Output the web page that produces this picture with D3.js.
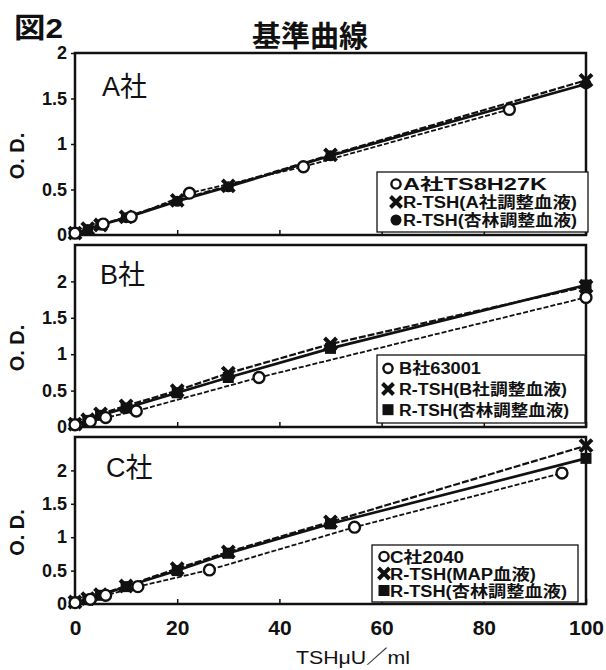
<!DOCTYPE html>
<html>
<head>
<meta charset="utf-8">
<script src="https://cdn.jsdelivr.net/npm/d3@7"></script>
<style>
  body { margin: 0; background: #fff; }
  svg { display: block; }
  text { fill: #111; }
</style>
</head>
<body>
<div id="chart"></div>
<script>
// --- data ---
const xTicks = [0, 20, 40, 60, 80, 100];
const yTicks = [0, 0.5, 1, 1.5, 2];
const panelNames = ["A社", "B社", "C社"];
const yMax = [2, 2.5, 2.5];

// R-TSH standards (both series use the same concentrations)
const rtshX = [0, 2.5, 5, 10, 20, 30, 50, 100];

// A社
const aKitX = [0, 5.5, 11, 22.4, 44.7, 85];
const aKitY = [0.02, 0.12, 0.2, 0.46, 0.75, 1.38];
const aRtshY = [0.02, 0.07, 0.11, 0.2, 0.38, 0.54, 0.88, 1.7];
const aKyorinY = [0.02, 0.06, 0.11, 0.19, 0.37, 0.53, 0.87, 1.66];

// B社
const bKitX = [0, 3, 6, 12, 36, 100];
const bKitY = [0.03, 0.08, 0.13, 0.22, 0.68, 1.78];
const bRtshY = [0.04, 0.1, 0.18, 0.29, 0.5, 0.74, 1.14, 1.93];
const bKyorinY = [0.04, 0.09, 0.16, 0.26, 0.47, 0.68, 1.08, 1.95];

// C社
const cKitX = [0, 3, 6, 12.3, 26.3, 54.7, 95.3];
const cKitY = [0.02, 0.07, 0.13, 0.26, 0.51, 1.15, 1.96];
const cRtshY = [0.03, 0.08, 0.14, 0.27, 0.53, 0.78, 1.23, 2.37];
const cKyorinY = [0.03, 0.07, 0.13, 0.26, 0.5, 0.76, 1.2, 2.18];

const legendA = ["A社TS8H27K", "R-TSH(A社調整血液)", "R-TSH(杏林調整血液)"];
const legendB = ["B社63001", "R-TSH(B社調整血液)", "R-TSH(杏林調整血液)"];
const legendC = ["C社2040", "R-TSH(MAP血液)", "R-TSH(杏林調整血液)"];

// --- layout ---
const W = 606, H = 670;
const left = 75, right = 586;
// legend: box, marker x, text x, text widths per row
const panelBox = [
  { top: 53, bottom: 235, label: { x: 102, y: 96 },
    legend: { x: 377, y: 172, w: 211, h: 60, mx: 396, tx: 403, widths: [144, 174, 174] } },
  { top: 245, bottom: 427, label: { x: 100, y: 284 },
    legend: { x: 377, y: 355, w: 208, h: 68, mx: 388, tx: 399, widths: [82, 168, 170] } },
  { top: 437, bottom: 604, label: { x: 106, y: 477 },
    legend: { x: 372, y: 545, w: 206, h: 57, mx: 384, tx: 390, widths: [74, 146, 177] } }
];
const cjk = "'Liberation Sans', 'Noto Sans CJK JP', sans-serif";

const panels = [
  { kitX: aKitX, kitY: aKitY, rtshY: aRtshY, kyorinY: aKyorinY, legend: legendA, dot: "circle" },
  { kitX: bKitX, kitY: bKitY, rtshY: bRtshY, kyorinY: bKyorinY, legend: legendB, dot: "square" },
  { kitX: cKitX, kitY: cKitY, rtshY: cRtshY, kyorinY: cKyorinY, legend: legendC, dot: "square" }
];

const svg = d3.select("#chart").append("svg")
  .attr("width", W).attr("height", H);

const x = d3.scaleLinear().domain([0, 100]).range([left, right]);

// headings
svg.append("text").attr("x", 14).attr("y", 38)
  .attr("font-family", cjk).attr("font-weight", "bold").attr("font-size", 28)
  .attr("textLength", 49).attr("lengthAdjust", "spacingAndGlyphs")
  .text("図2");
svg.append("text").attr("x", 310).attr("y", 47).attr("text-anchor", "middle")
  .attr("font-family", cjk).attr("font-weight", "bold").attr("font-size", 29)
  .text("基準曲線");

function drawMarker(g, type, cx, cy, s) {
  if (type === "open") {
    g.append("circle").attr("cx", cx).attr("cy", cy).attr("r", s * 0.42)
      .attr("fill", "#fff").attr("stroke", "#111").attr("stroke-width", 2.4);
  } else if (type === "cross") {
    const h = s * 0.5;
    g.append("path")
      .attr("d", `M${cx - h},${cy - h}L${cx + h},${cy + h}M${cx - h},${cy + h}L${cx + h},${cy - h}`)
      .attr("stroke", "#111").attr("stroke-width", 4).attr("fill", "none");
  } else if (type === "circle") {
    g.append("circle").attr("cx", cx).attr("cy", cy).attr("r", s * 0.5).attr("fill", "#111");
  } else {
    g.append("rect").attr("x", cx - s * 0.5).attr("y", cy - s * 0.5)
      .attr("width", s).attr("height", s).attr("fill", "#111");
  }
}

panels.forEach((p, i) => {
  const box = panelBox[i];
  const y = d3.scaleLinear().domain([0, yMax[i]]).range([box.bottom, box.top]);
  const g = svg.append("g");

  // y axis ticks + labels
  const yAxis = d3.axisLeft(y).tickValues(yTicks).tickSize(4).tickPadding(4)
    .tickFormat(d3.format("~g"));
  const ya = g.append("g").attr("transform", `translate(${left},0)`).call(yAxis);
  ya.select(".domain").remove();
  ya.selectAll("line").attr("stroke", "#111").attr("stroke-width", 1.5);
  ya.selectAll("text").attr("font-family", "'Liberation Sans', sans-serif")
    .attr("font-size", 18).attr("font-weight", "bold").attr("fill", "#111");

  // x ticks pointing inward
  const xAxis = d3.axisTop(x).tickValues(xTicks).tickSize(5).tickFormat("");
  const xa = g.append("g").attr("transform", `translate(0,${box.bottom})`).call(xAxis);
  xa.select(".domain").remove();
  xa.selectAll("line").attr("stroke", "#111").attr("stroke-width", 1.5);

  if (i === 2) {
    const xb = g.append("g").attr("transform", `translate(0,${box.bottom})`)
      .call(d3.axisBottom(x).tickValues(xTicks).tickSize(0).tickPadding(16));
    xb.select(".domain").remove();
    xb.selectAll("text").attr("font-family", "'Liberation Sans', sans-serif")
      .attr("font-size", 21).attr("font-weight", "bold").attr("fill", "#111");
  }

  // frame
  g.append("rect").attr("x", left).attr("y", box.top)
    .attr("width", right - left).attr("height", box.bottom - box.top)
    .attr("fill", "none").attr("stroke", "#111").attr("stroke-width", 2.5);

  // y title
  g.append("text")
    .attr("transform", `translate(24,${(box.top + box.bottom) / 2 + 12}) rotate(-90)`)
    .attr("text-anchor", "middle")
    .attr("font-family", "'Liberation Sans', sans-serif").attr("font-weight", "bold")
    .attr("font-size", 20).text("O. D.");

  // panel label
  g.append("text").attr("x", box.label.x).attr("y", box.label.y)
    .attr("font-family", cjk).attr("font-size", 27).text(panelNames[i]);

  const line = d3.line().x(d => x(d[0])).y(d => y(d[1]));
  const kit = p.kitX.map((v, k) => [v, p.kitY[k]]);
  const rtsh = rtshX.map((v, k) => [v, p.rtshY[k]]);
  const kyorin = rtshX.map((v, k) => [v, p.kyorinY[k]]);

  g.append("path").datum(kit).attr("d", line).attr("fill", "none")
    .attr("stroke", "#111").attr("stroke-width", 1.8).attr("stroke-dasharray", "5,2");
  g.append("path").datum(rtsh).attr("d", line).attr("fill", "none")
    .attr("stroke", "#111").attr("stroke-width", 2.2).attr("stroke-dasharray", "7,2");
  g.append("path").datum(kyorin).attr("d", line).attr("fill", "none")
    .attr("stroke", "#111").attr("stroke-width", 2.6);

  kyorin.forEach(d => drawMarker(g, p.dot, x(d[0]), y(d[1]), 11));
  rtsh.forEach(d => drawMarker(g, "cross", x(d[0]), y(d[1]), 12));
  kit.forEach(d => drawMarker(g, "open", x(d[0]), y(d[1]), 13));

  // legend
  const L = box.legend;
  const lg = g.append("g");
  lg.append("rect").attr("x", L.x).attr("y", L.y).attr("width", L.w).attr("height", L.h)
    .attr("fill", "#fff").attr("stroke", "#111").attr("stroke-width", 1.3);
  const types = ["open", "cross", p.dot];
  const rowH = (L.h - 6) / 3;
  p.legend.forEach((t, k) => {
    const cy = L.y + 3 + rowH * (k + 0.5);
    drawMarker(lg, types[k], L.mx, cy, 11);
    lg.append("text").attr("x", L.tx).attr("y", cy + 6)
      .attr("font-family", cjk).attr("font-weight", "bold").attr("font-size", 16)
      .attr("textLength", L.widths[k]).attr("lengthAdjust", "spacingAndGlyphs")
      .text(t);
  });
});

// x title
svg.append("text").attr("x", 296).attr("y", 664)
  .attr("font-family", cjk).attr("font-size", 19)
  .attr("textLength", 114).attr("lengthAdjust", "spacingAndGlyphs")
  .text("TSHμU／ml");
</script>
</body>
</html>
